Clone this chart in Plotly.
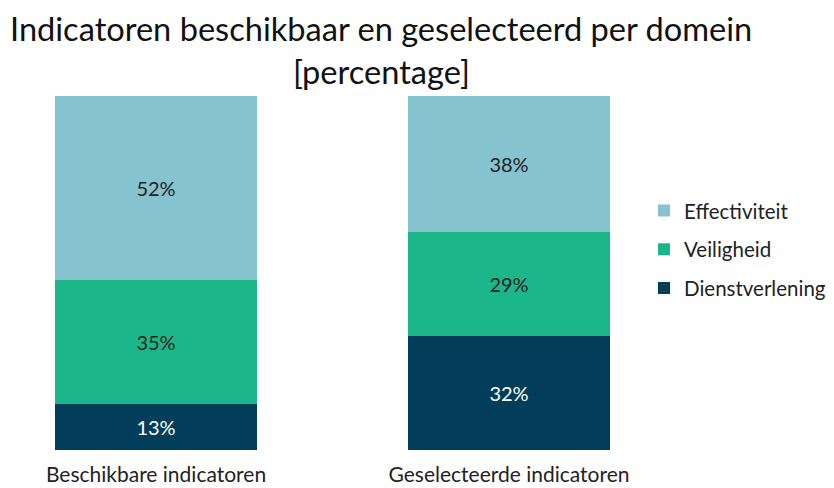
import plotly.graph_objects as go

categories = ["Beschikbare indicatoren", "Geselecteerde indicatoren"]
series_names = ["Dienstverlening", "Veiligheid", "Effectiviteit"]
dienstverlening = [13, 32]
veiligheid = [35, 29]
effectiviteit = [52, 38]
colors = ["#023E5A", "#1CB68B", "#85C3CF"]
text_colors = ["#FFFFFF", "#222222", "#222222"]
legend_ranks = [3, 2, 1]
title_lines = ["Indicatoren beschikbaar en geselecteerd per domein", "[percentage]"]

FONT = "Lato"

fig = go.Figure()
for i, (name, vals) in enumerate(zip(series_names, [dienstverlening, veiligheid, effectiviteit])):
    fig.add_trace(go.Bar(
        x=categories, y=vals, name=name,
        marker=dict(color=colors[i], line=dict(width=0)),
        text=[f"{v}%" for v in vals],
        textposition="inside", insidetextanchor="middle", textangle=0,
        textfont=dict(color=text_colors[i], size=20, family=FONT),
        legendgroup=name, legendrank=legend_ranks[i], width=0.572,
        hoverinfo="skip",
    ))

PLOT_H = 354
fig.update_layout(
    barmode="stack", barnorm="percent",
    width=826, height=480,
    margin=dict(l=2, r=194, t=88, b=38, autoexpand=False),
    paper_bgcolor="white", plot_bgcolor="white",
    font=dict(family=FONT, color="#222222"),
    legend=dict(x=636 / 826, xref="container", xanchor="left",
                y=0.567, yanchor="middle",
                traceorder="grouped", tracegroupgap=9,
                font=dict(size=20.5, family=FONT, color="#222222"),
                itemwidth=30),
    showlegend=True,
    uniformtext=dict(minsize=20, mode="show"),
    annotations=[
        dict(text=title_lines[0], xref="paper", yref="paper", x=0.589,
             y=1 + (88 - 21) / PLOT_H, xanchor="center", yanchor="middle",
             showarrow=False, borderpad=0,
             font=dict(size=32.6, family=FONT, color="#111111")),
        dict(text=title_lines[1], xref="paper", yref="paper", x=0.589,
             y=1 + (88 - 63) / PLOT_H, xanchor="center", yanchor="middle",
             showarrow=False, borderpad=0,
             font=dict(size=32.6, family=FONT, color="#111111")),
    ],
)
fig.update_xaxes(range=[-0.4136, 1.371], showgrid=False, zeroline=False, showline=False,
                 ticks="outside", ticklen=6, tickcolor="rgba(0,0,0,0)",
                 tickfont=dict(size=21, family=FONT, color="#222222"))
fig.update_yaxes(range=[0, 100], visible=False)

fig.write_html("out.html")
